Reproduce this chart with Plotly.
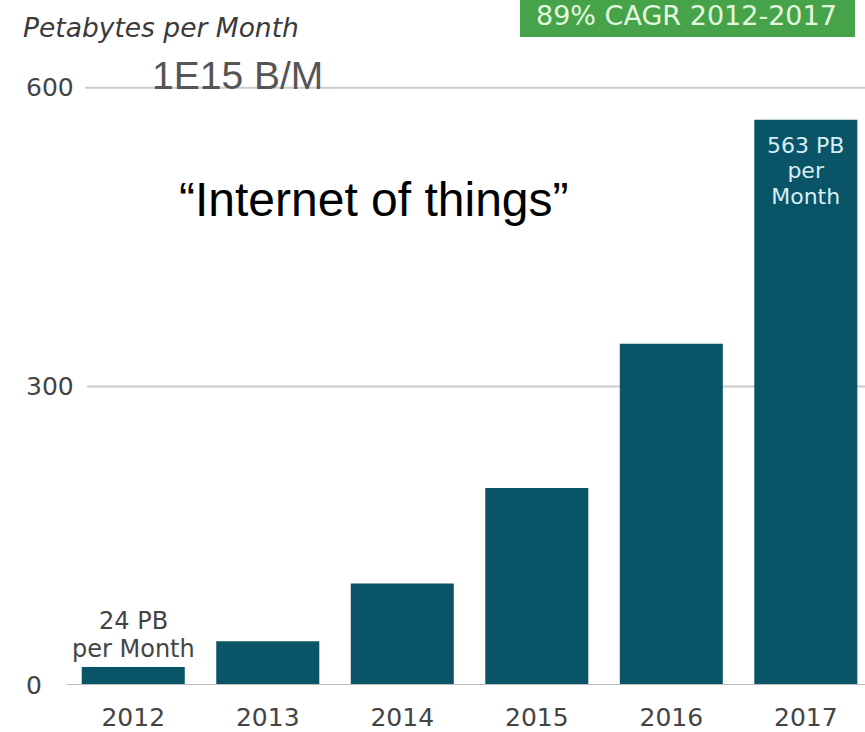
import plotly.graph_objects as go

years = ["2012", "2013", "2014", "2015", "2016", "2017"]
petabytes = [18, 44, 102, 198, 343, 568]
y_ticks = [0, 300, 600]
y_tick_labels = ["0", "300", "600"]

W, H = 865, 732
L, R, T, B = 66, 0, 60, 47
PW, PH = W - L - R, H - T - B
Y_MAX = 628
X_RANGE = [-0.5, 5.44]


def px_x(px):
    return (px - L) / PW


def px_y(py):
    return (H - B - py) / PH


BAR = "#0a5468"
fig = go.Figure()
fig.add_trace(go.Bar(x=years, y=petabytes, marker=dict(color=BAR, line=dict(width=0)),
                     hoverinfo="skip"))

shapes = []
# gridlines
for v, x0 in [(600, 85), (300, 87)]:
    shapes.append(dict(type="line", xref="paper", yref="y", x0=px_x(x0), x1=1, y0=v, y1=v,
                       line=dict(color="#cccccc", width=2), layer="below"))
shapes.append(dict(type="line", xref="paper", yref="y", x0=px_x(67), x1=1, y0=0, y1=0,
                   line=dict(color="#bdbdbd", width=2), layer="above"))
# green CAGR box
shapes.append(dict(type="rect", xref="paper", yref="paper", x0=px_x(520), x1=px_x(855),
                   y0=px_y(37), y1=px_y(-5), fillcolor="#46a349", line=dict(width=0)))

ann = []
for v, lab in zip(y_ticks, y_tick_labels):
    ann.append(dict(text=lab, xref="paper", yref="y", x=px_x(24), y=v, xanchor="left",
                    yanchor="middle", showarrow=False,
                    font=dict(family="DejaVu Sans", size=25, color="#444444")))
ann.append(dict(text="<i>Petabytes per Month</i>", xref="paper", yref="paper", x=px_x(21),
                y=px_y(27), xanchor="left", yanchor="middle", showarrow=False,
                font=dict(family="DejaVu Sans", size=26.5, color="#3a3a3a")))
ann.append(dict(text="1E15 B/M", xref="paper", yref="paper", x=px_x(237), y=px_y(75),
                xanchor="center", yanchor="middle", showarrow=False,
                font=dict(family="Liberation Sans", size=39, color="#555555")))
ann.append(dict(text="\u201cInternet of things\u201d", xref="paper", yref="paper", x=px_x(374),
                y=px_y(200), xanchor="center", yanchor="middle", showarrow=False,
                font=dict(family="Liberation Sans", size=48, color="#000000")))
ann.append(dict(text="89% CAGR 2012-2017", xref="paper", yref="paper", x=px_x(686),
                y=px_y(16), xanchor="center", yanchor="middle", showarrow=False,
                font=dict(family="DejaVu Sans", size=27, color="#e3f7df")))
# 2012 label above bar
i0, i5 = 0, len(years) - 1
for txt, dy in [("24 PB", -60), ("per Month", -32)]:
    ann.append(dict(text=txt, xref="x", yref="y", x=i0, y=petabytes[i0], yshift=-dy - 14,
                    xanchor="center", yanchor="middle", showarrow=False,
                    font=dict(family="DejaVu Sans", size=24, color="#444444")))
# 2017 label inside bar: tight line spacing (smaller base font, larger spans)
lines_2017 = ["563 PB", "per", "Month"]
txt_2017 = "<br>".join('<span style="font-size:22px">%s</span>' % s for s in lines_2017)
ann.append(dict(text=txt_2017, xref="x", yref="y", x=i5, y=petabytes[i5], yshift=-51,
                xanchor="center", yanchor="middle", showarrow=False,
                font=dict(family="DejaVu Sans", size=19.6, color="#d6eef3")))

fig.update_layout(
    width=W, height=H,
    margin=dict(l=L, r=R, t=T, b=B, pad=0),
    paper_bgcolor="white", plot_bgcolor="white",
    showlegend=False, bargap=0.234,
    shapes=shapes, annotations=ann,
    xaxis=dict(type="category", range=X_RANGE, showgrid=False, zeroline=False,
               showline=False, ticks="",
               tickfont=dict(family="DejaVu Sans", size=25, color="#444444"),
               ticklabelstandoff=15),
    yaxis=dict(range=[0, Y_MAX], showgrid=False, zeroline=False, showline=False,
               showticklabels=False, ticks=""),
)
fig.write_html("out.html")
